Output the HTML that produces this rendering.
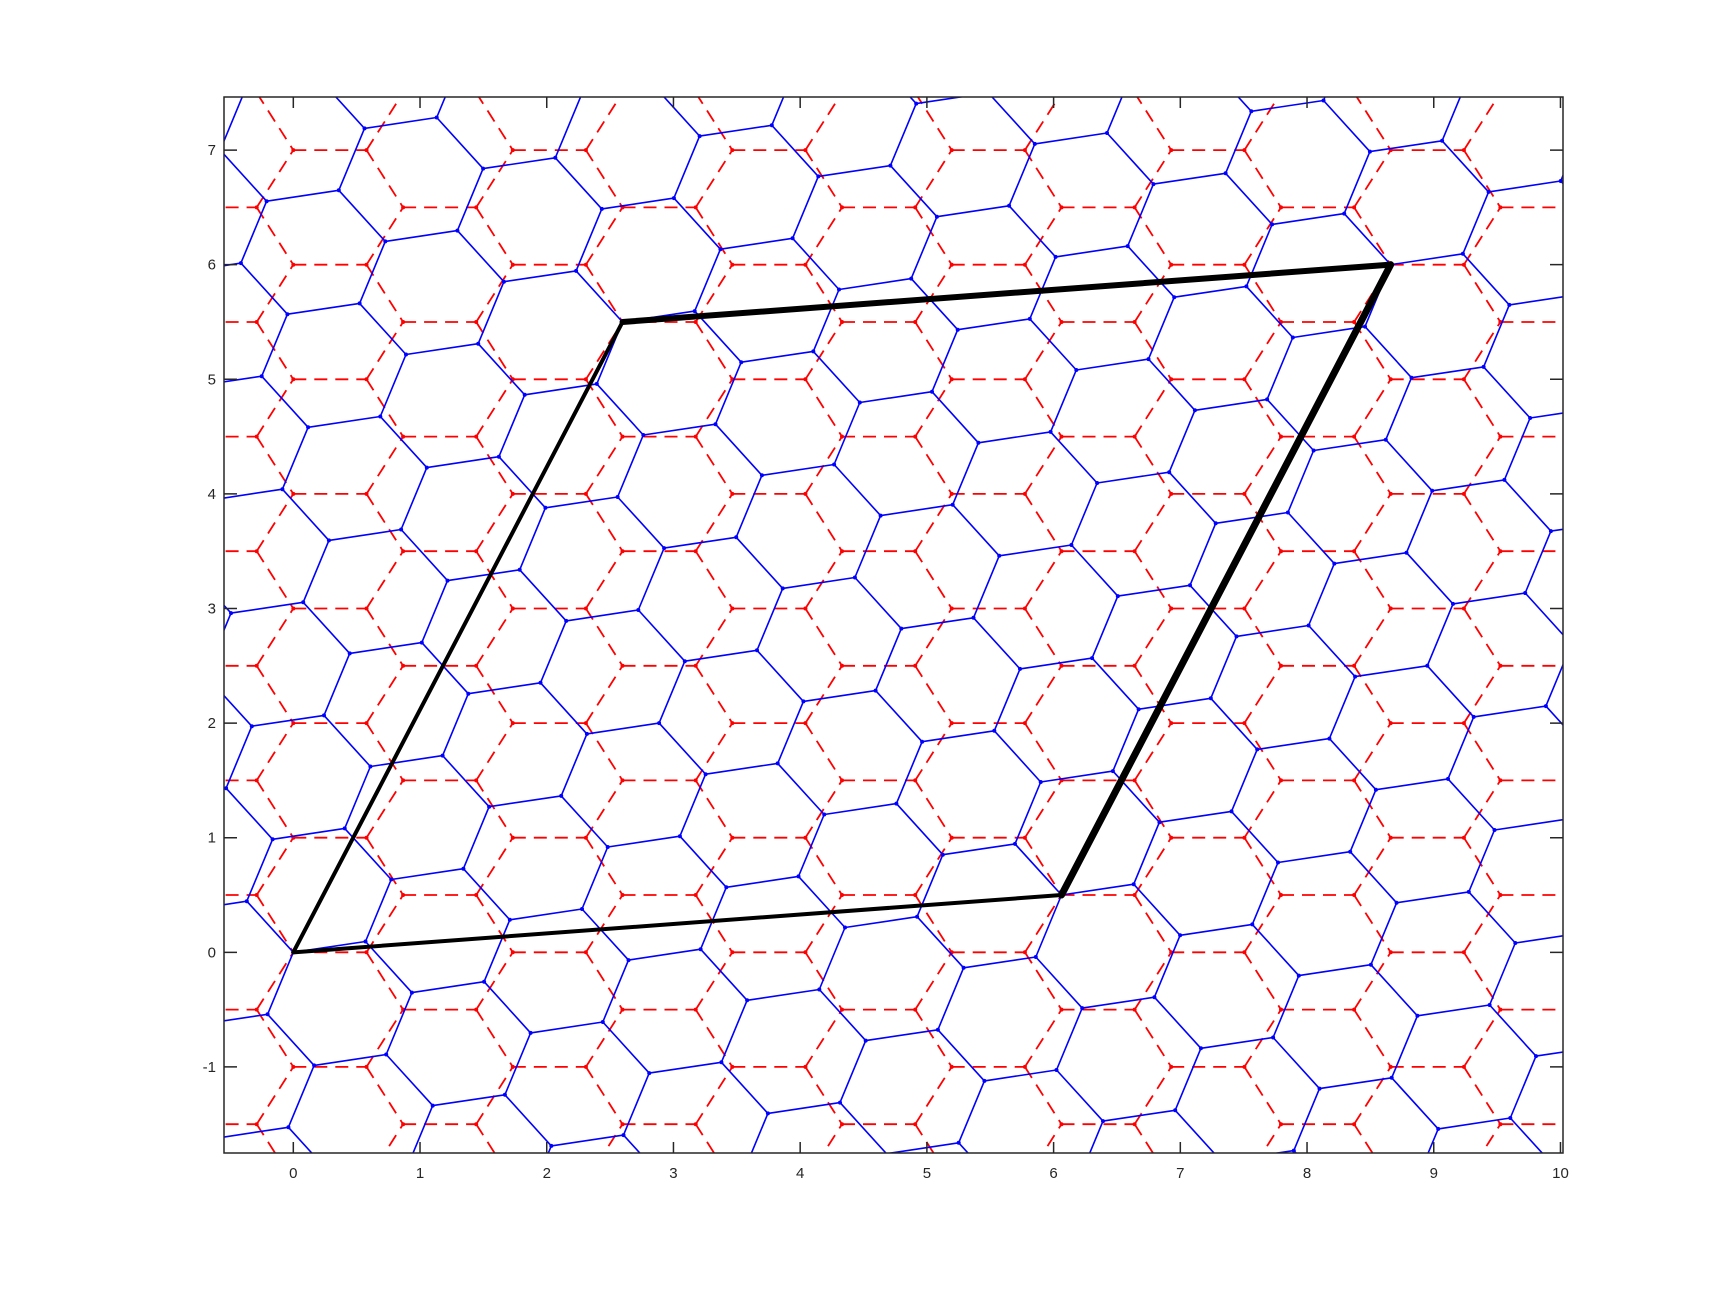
<!DOCTYPE html>
<html><head><meta charset="utf-8"><style>
html,body{margin:0;padding:0;background:#fff;overflow:hidden;width:1728px;height:1296px;}
svg{display:block;}
text{font-family:"Liberation Sans",sans-serif;font-size:15px;fill:#262626;}
</style></head><body>
<svg id="chart" width="1728" height="1296" viewBox="0 0 1728 1296" xmlns="http://www.w3.org/2000/svg">
<defs><clipPath id="plotclip"><rect x="224" y="97" width="1339" height="1056"/></clipPath></defs>
<rect x="0" y="0" width="1728" height="1296" fill="#fff"/>
<g id="plot" clip-path="url(#plotclip)"></g>
<g id="axes"></g>
</svg>
<script>
// data
const xTicks = [0,1,2,3,4,5,6,7,8,9,10];
const yTicks = [-1,0,1,2,3,4,5,6,7];
const xLimits = [-0.547, 10.02];
const yLimits = [-1.751, 7.463];
const bondLength = [0.57735];
const twistAngleDeg = [9.43];
const cellX = [0, 6.0622, 8.6603, 2.5981];
const cellY = [0, 0.5, 6.0, 5.5];
const cellWidths = [4, 7, 6, 4];

const NS = "http://www.w3.org/2000/svg";
const L = 224, R = 1563, T = 97, B = 1153;
function X(x){ return L + (x - xLimits[0]) / (xLimits[1] - xLimits[0]) * (R - L); }
function Y(y){ return B - (y - yLimits[0]) / (yLimits[1] - yLimits[0]) * (B - T); }
const plot = document.getElementById('plot');
const axes = document.getElementById('axes');
function mk(tag, attrs, parent){
  const e = document.createElementNS(NS, tag);
  for (const k in attrs) e.setAttribute(k, attrs[k]);
  parent.appendChild(e);
  return e;
}
function near(p){
  return p[0] > xLimits[0]-0.7 && p[0] < xLimits[1]+0.7 && p[1] > yLimits[0]-0.7 && p[1] < yLimits[1]+0.7;
}
function inside(p){
  return p[0] >= xLimits[0] && p[0] <= xLimits[1] && p[1] >= yLimits[0] && p[1] <= yLimits[1];
}

function lattice(angleDeg, color, dashed, name){
  const g = mk('g', {}, plot);
  
  
  const a = bondLength[0];
  const th = angleDeg * Math.PI / 180, c = Math.cos(th), s = Math.sin(th);
  const rot = (p) => [p[0]*c - p[1]*s, p[0]*s + p[1]*c];
  const a1 = [3*a, 0], a2 = [1.5*a, 0.5];
  let d = '';
  const nodes = [];
  const seg = (p, q) => {
    if (!near(p) && !near(q)) return;
    d += `M${X(p[0]).toFixed(1)},${Y(p[1]).toFixed(1)}L${X(q[0]).toFixed(1)},${Y(q[1]).toFixed(1)}`;
  };
  for (let i = -12; i <= 12; i++) for (let j = -8; j <= 24; j++) {
    const A = [i*a1[0] + j*a2[0], i*a1[1] + j*a2[1]];
    const Bp = [A[0] + a, A[1]];
    const C = [Bp[0] + a/2, Bp[1] + 0.5];
    const D = [Bp[0] + a/2, Bp[1] - 0.5];
    const rA = rot(A), rB = rot(Bp), rC = rot(C), rD = rot(D);
    seg(rA, rB); seg(rB, rC); seg(rB, rD);
    if (inside(rA)) nodes.push(rA);
    if (inside(rB)) nodes.push(rB);
  }
  const p = mk('path', {d: d, fill: 'none', stroke: color, 'stroke-width': dashed ? 1.8 : 1.6}, g);
  if (dashed) p.setAttribute('stroke-dasharray', '13,8');
  
  
  let md = '';
  nodes.forEach(n => { md += `M${X(n[0]).toFixed(1)},${Y(n[1]).toFixed(1)}h0.01`; });
  const m = mk('path', {d: md, stroke: color, 'stroke-width': 4, 'stroke-linecap': 'round', fill: 'none'}, g);
  
  
}
lattice(0, '#ff0000', true, 'red-lattice');
lattice(twistAngleDeg[0], '#0000ff', false, 'blue-lattice');

// supercell
const cg = mk('g', {}, plot);


for (let k = 0; k < cellX.length; k++) {
  const k2 = (k + 1) % cellX.length;
  const ln = mk('line', {x1: X(cellX[k]), y1: Y(cellY[k]), x2: X(cellX[k2]), y2: Y(cellY[k2]), stroke: '#000', 'stroke-width': cellWidths[k], 'stroke-linecap': 'round'}, cg);
  
  
}

// axes box
const box = mk('rect', {x: L, y: T, width: R - L, height: B - T, fill: 'none', stroke: '#262626', 'stroke-width': 1.5}, axes);


xTicks.forEach(t => {
  const x = X(t);
  const tk = mk('path', {d: `M${x},${B}v-11M${x},${T}v11`, stroke: '#262626', 'stroke-width': 1.5}, axes);
  
  
  const tx = mk('text', {x: x, y: B + 25, 'text-anchor': 'middle'}, axes);
  tx.textContent = t;
  
  
});
yTicks.forEach(t => {
  const y = Y(t);
  const tk = mk('path', {d: `M${L},${y}h13M${R},${y}h-13`, stroke: '#262626', 'stroke-width': 1.5}, axes);
  
  
  const tx = mk('text', {x: L - 8, y: y + 5, 'text-anchor': 'end'}, axes);
  tx.textContent = t;
  
  
});
</script>
</body></html>
